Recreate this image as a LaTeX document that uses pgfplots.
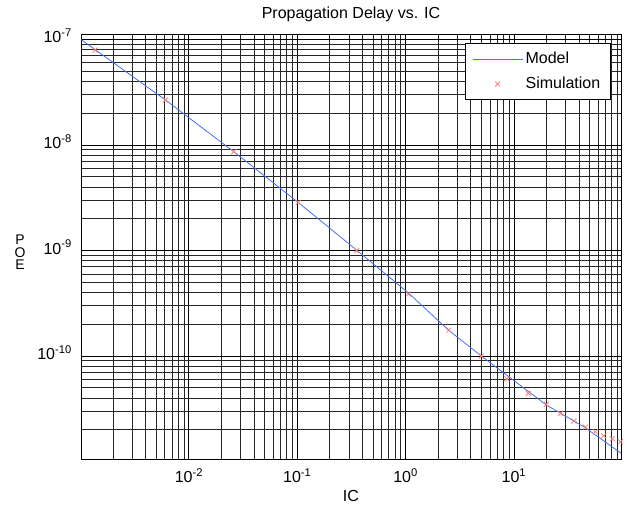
\documentclass[border=0pt]{standalone}
\usepackage{fontspec}
\setmainfont{Liberation Sans}
\usepackage{pgfplots}
\pgfplotsset{compat=1.18}
\usetikzlibrary{calc}
\definecolor{modelblue}{RGB}{70,110,255}
\definecolor{simred}{RGB}{250,125,115}
\begin{document}
\fontsize{16pt}{19pt}\selectfont
\begin{tikzpicture}
\begin{axis}[
  xmode=log, ymode=log,
  scale only axis, width=540pt, height=425pt,
  xmin=1.01e-3, xmax=97.3, ymin=1.057e-11, ymax=1.127e-7,
  xtick={1e-2,1e-1,1,10},
  xticklabels={10\textsuperscript{-2},10\textsuperscript{-1},10\textsuperscript{0},10\textsuperscript{1}},
  ytick={1e-10,1e-9,1e-8,1e-7},
  yticklabels={10\textsuperscript{-10},10\textsuperscript{-9},10\textsuperscript{-8},10\textsuperscript{-7}},
  minor xtick={2e-3,3e-3,4e-3,5e-3,6e-3,7e-3,8e-3,9e-3,2e-2,3e-2,4e-2,5e-2,6e-2,7e-2,8e-2,9e-2,0.2,0.3,0.4,0.5,0.6,0.7,0.8,0.9,2,3,4,5,6,7,8,9,20,30,40,50,60,70,80,90},
  minor ytick={2e-11,3e-11,4e-11,5e-11,6e-11,7e-11,8e-11,9e-11,2e-10,3e-10,4e-10,5e-10,6e-10,7e-10,8e-10,9e-10,2e-9,3e-9,4e-9,5e-9,6e-9,7e-9,8e-9,9e-9,2e-8,3e-8,4e-8,5e-8,6e-8,7e-8,8e-8,9e-8},
  grid=both,
  major grid style={black, line width=0.8pt},
  minor grid style={black!85, line width=0.8pt},
  axis line style={black, line width=0.9pt},
  major tick length=0pt, minor tick length=0pt,
  xticklabel style={anchor=base, inner sep=0pt, yshift=-23.5pt},
  yticklabel style={anchor=base east, inner sep=0pt, xshift=-9pt, yshift=-3.5pt},
  title={Propagation Delay vs. IC},
  title style={at={(axis description cs:0.5,1)}, anchor=base, yshift=10pt, inner sep=0pt},
  xlabel={IC},
  xlabel style={at={(axis description cs:0.5,0)}, anchor=base, yshift=-42.7pt, inner sep=0pt},
  legend style={at={(axis description cs:0.9796,0.978)}, anchor=north east, inner xsep=7pt, inner ysep=3pt, nodes={inner xsep=2.5pt, inner ysep=5.5pt}, cells={anchor=west}, font=\fontsize{16pt}{19pt}\selectfont},
  legend image code/.code={\draw[mark repeat=2,mark phase=2,#1] plot coordinates {(0pt,0pt) (25pt,0pt) (50pt,0pt)};},
]
\addplot[color=modelblue, line width=0.8pt, no marks] coordinates {
(1.01e-3,1.0e-7) (6.08e-3,2.67e-8) (2.6e-2,8.63e-9) (0.102,2.86e-9) (0.353,1.01e-9)
(1.067,3.95e-10) (2.49,1.76e-10) (5.0,1.0e-10) (19.9,3.44e-11) (45,2.11e-11) (97.3,1.2e-11)
};
\addlegendentry{Model}
\addplot[color=simred, only marks, mark=x, mark size=3.5pt, line width=0.8pt] coordinates {
(1.364e-3,7.94e-8) (6.08e-3,2.67e-8) (2.598e-2,8.64e-9) (0.1021,2.86e-9) (0.3528,9.96e-10)
(1.059,3.87e-10) (2.51,1.764e-10) (5.0,1.0e-10) (8.62,6.09e-11) (13.58,4.43e-11)
(19.92,3.485e-11) (26.99,2.863e-11) (35.8,2.42e-11) (45.6,2.123e-11) (56.4,1.916e-11)
(67.3,1.756e-11) (81.0,1.645e-11) (96.0,1.54e-11)
};
\addlegendentry{Simulation}
\end{axis}
\node[align=center, font=\fontsize{14pt}{12.5pt}\selectfont] at ($(current axis.west)+(-61pt,-6pt)$) {P\\O\\E};
\pgfresetboundingbox
\path ($(current axis.south west)+(-81pt,-49pt)$) rectangle ($(current axis.north east)+(10pt,34pt)$);
\end{tikzpicture}
\end{document}
